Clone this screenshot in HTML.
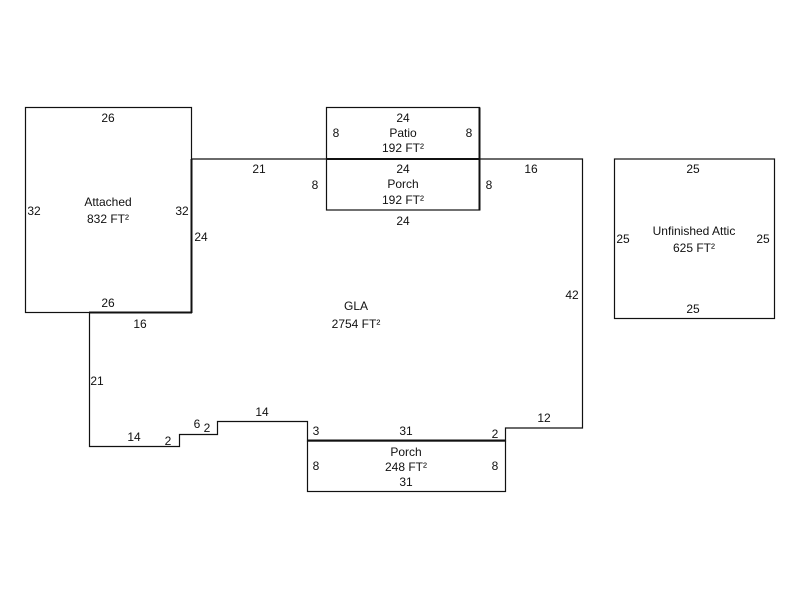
<!DOCTYPE html>
<html><head><meta charset="utf-8"><style>
html,body{margin:0;padding:0;background:#fff;}
svg{display:block;}
text{font-family:"Liberation Sans",Arial,sans-serif;font-size:12px;fill:#111;text-anchor:middle;dominant-baseline:central;}
</style></head><body>
<svg width="800" height="600" viewBox="0 0 800 600" xmlns="http://www.w3.org/2000/svg">
<g fill="none" stroke="#111" stroke-width="1.2">
<rect x="25.5" y="107.5" width="166" height="205"/>
<polyline points="191.5,159 582.5,159 582.5,428 505.5,428 505.5,441 307.5,441 307.5,421.5 217.5,421.5 217.5,434.5 179.5,434.5 179.5,446.5 89.5,446.5 89.5,312.5"/>
<rect x="326.5" y="107.5" width="153" height="51.5"/>
<rect x="326.5" y="159" width="153" height="51"/>
<rect x="307.5" y="441" width="198" height="50.5"/>
<rect x="614.5" y="159" width="160" height="159.5"/>
</g>
<g stroke="#111" stroke-width="2" fill="none">
<line x1="191.5" y1="159" x2="191.5" y2="313"/>
<line x1="89" y1="312.5" x2="192" y2="312.5"/>
<line x1="326.5" y1="159" x2="480" y2="159"/>
<line x1="479.5" y1="107.5" x2="479.5" y2="210.5"/>
<line x1="307" y1="440.5" x2="506" y2="440.5"/>
</g>
<g transform="translate(0,1)">
<text x="108" y="117">26</text>
<text x="108" y="201">Attached</text>
<text x="108" y="218">832 FT²</text>
<text x="34" y="210">32</text>
<text x="182" y="210">32</text>
<text x="108" y="302">26</text>
<text x="140" y="323">16</text>
<text x="201" y="236">24</text>
<text x="259" y="168">21</text>
<text x="531" y="168">16</text>
<text x="572" y="294">42</text>
<text x="356" y="305">GLA</text>
<text x="356" y="323">2754 FT²</text>
<text x="97" y="380">21</text>
<text x="134" y="436">14</text>
<text x="168" y="440">2</text>
<text x="197" y="423">6</text>
<text x="207" y="427">2</text>
<text x="262" y="411">14</text>
<text x="316" y="430">3</text>
<text x="406" y="430">31</text>
<text x="495" y="433">2</text>
<text x="544" y="417">12</text>
<text x="403" y="117">24</text>
<text x="403" y="132">Patio</text>
<text x="403" y="147">192 FT²</text>
<text x="336" y="132">8</text>
<text x="469" y="132">8</text>
<text x="403" y="168">24</text>
<text x="403" y="183">Porch</text>
<text x="403" y="199">192 FT²</text>
<text x="315" y="184">8</text>
<text x="489" y="184">8</text>
<text x="403" y="220">24</text>
<text x="406" y="451">Porch</text>
<text x="406" y="466">248 FT²</text>
<text x="316" y="465">8</text>
<text x="495" y="465">8</text>
<text x="406" y="481">31</text>
<text x="693" y="168">25</text>
<text x="694" y="230">Unfinished Attic</text>
<text x="694" y="247">625 FT²</text>
<text x="623" y="238">25</text>
<text x="763" y="238">25</text>
<text x="693" y="308">25</text>
</g>
</svg>
</body></html>
